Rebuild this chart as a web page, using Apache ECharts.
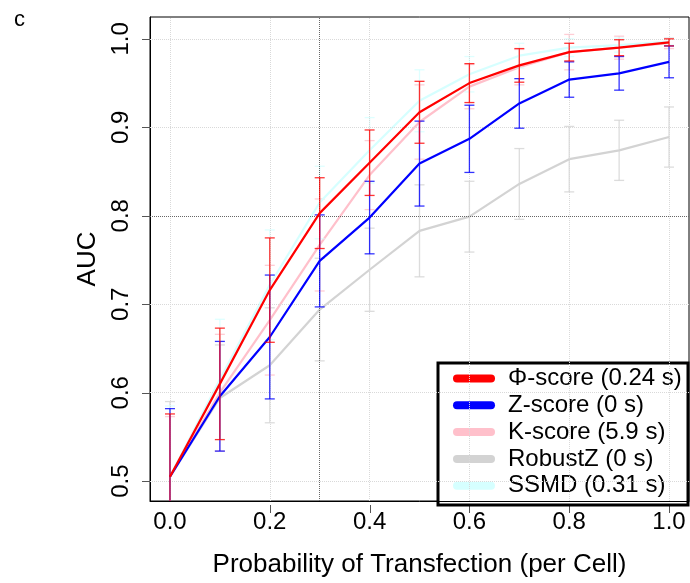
<!DOCTYPE html>
<html>
<head>
<meta charset="utf-8">
<script src="https://cdn.jsdelivr.net/npm/echarts@6/dist/echarts.min.js"></script>
<style>html,body{margin:0;padding:0;background:#fff}#c{width:690px;height:583px}</style>
</head>
<body>
<div id="c"></div>
<script>
var xValues = [0, 0.1, 0.2, 0.3, 0.4, 0.5, 0.6, 0.7, 0.8, 0.9, 1.0];
var xTicks = [0, 0.2, 0.4, 0.6, 0.8, 1.0];
var xTickMarks = [0.2, 0.4, 0.6, 0.8, 1.0];
var yTicks = [0.5, 0.6, 0.7, 0.8, 0.9, 1.0];
var seriesNames = ['Φ-score (0.24 s)', 'Z-score (0 s)', 'K-score (5.9 s)', 'RobustZ (0 s)', 'SSMD (0.31 s)'];
var seriesColors = ['#ff0000', '#0000ff', '#ffc0cb', '#d3d3d3', '#d6ffff'];

var phiMean = [0.505, 0.610, 0.716, 0.803, 0.860, 0.917, 0.950, 0.970, 0.985, 0.990, 0.996];
var phiSd   = [0.071, 0.063, 0.059, 0.040, 0.037, 0.035, 0.022, 0.019, 0.010, 0.009, 0.004];
var zMean   = [0.505, 0.596, 0.663, 0.749, 0.798, 0.859, 0.887, 0.927, 0.954, 0.961, 0.974];
var zSd     = [0.077, 0.062, 0.070, 0.052, 0.041, 0.048, 0.038, 0.028, 0.020, 0.019, 0.018];
var kMean   = [0.505, 0.600, 0.682, 0.767, 0.846, 0.906, 0.946, 0.968, 0.985, 0.990, 0.995];
var kSd     = [0.068, 0.066, 0.062, 0.052, 0.039, 0.042, 0.025, 0.020, 0.020, 0.013, 0.006];
var rzMean  = [0.505, 0.594, 0.631, 0.694, 0.739, 0.783, 0.799, 0.836, 0.864, 0.874, 0.889];
var rzSd    = [0.085, 0.060, 0.065, 0.058, 0.047, 0.052, 0.040, 0.040, 0.037, 0.034, 0.034];
var ssmdMean= [0.505, 0.615, 0.722, 0.815, 0.874, 0.930, 0.960, 0.981, 0.990, 0.993, 0.997];
var ssmdSd  = [0.080, 0.068, 0.062, 0.041, 0.037, 0.035, 0.020, 0.014, 0.010, 0.008, 0.004];

var means = [phiMean, zMean, kMean, rzMean, ssmdMean];
var sds = [phiSd, zSd, kSd, rzSd, ssmdSd];
var drawOrder = [3, 2, 4, 1, 0];

var FONT = '"Liberation Sans", Arial, Helvetica, sans-serif';
var TICK_LEN = 8;

function pairs(m) { return xValues.map(function (x, i) { return [x, m[i]]; }); }
function errData(m, s) { return xValues.map(function (x, i) { return [x, m[i] - s[i], m[i] + s[i]]; }); }

function errRender(color) {
  return function (params, api) {
    var x = api.value(0);
    var lo = api.coord([x, api.value(1)]);
    var hi = api.coord([x, api.value(2)]);
    var w = 5;
    var st = { stroke: color, lineWidth: 1.3, opacity: 0.8 };
    return {
      type: 'group',
      children: [
        { type: 'line', shape: { x1: lo[0], y1: lo[1], x2: hi[0], y2: hi[1] }, style: st },
        { type: 'line', shape: { x1: lo[0] - w, y1: lo[1], x2: lo[0] + w, y2: lo[1] }, style: st },
        { type: 'line', shape: { x1: hi[0] - w, y1: hi[1], x2: hi[0] + w, y2: hi[1] }, style: st }
      ]
    };
  };
}

var series = [];
series.push({
  type: 'line', data: [], silent: true, z: 1,
  markLine: {
    silent: true, symbol: 'none', label: { show: false }, animation: false,
    lineStyle: { type: 'dotted', color: '#d9d9d9', width: 1 },
    data: xTicks.map(function (v) { return { xAxis: v }; }).concat(
          yTicks.map(function (v) { return { yAxis: v }; }))
  }
});
series.push({
  type: 'line', data: [], silent: true, z: 1,
  markLine: {
    silent: true, symbol: 'none', label: { show: false }, animation: false,
    lineStyle: { type: 'dotted', color: '#666', width: 1 },
    data: [{ xAxis: 0.3 }, { yAxis: 0.8 }]
  }
});

drawOrder.forEach(function (k, j) {
  series.push({
    type: 'custom', name: 'err' + k, clip: true, silent: true, z: 2 + j,
    renderItem: errRender(seriesColors[k]),
    data: errData(means[k], sds[k]), animation: false
  });
  series.push({
    type: 'line', name: seriesNames[k], data: pairs(means[k]), showSymbol: false, symbol: 'none',
    lineStyle: { color: seriesColors[k], width: 2.2 }, itemStyle: { color: seriesColors[k] },
    z: 2 + j, animation: false, clip: true
  });
});

var legX = 438, legY = 363, legR = 688, legB = 505, rowH = 26.8, row0 = 378.5;
var legendChildren = [{
  type: 'rect', shape: { x: legX, y: legY, width: legR - legX, height: legB - legY },
  style: { fill: '#fff', stroke: '#000', lineWidth: 3 }
}];
seriesNames.forEach(function (n, i) {
  var cy = row0 + i * rowH;
  legendChildren.push({
    type: 'line', shape: { x1: 457, y1: cy, x2: 491, y2: cy },
    style: { stroke: seriesColors[i], lineWidth: 8, lineCap: 'round' }
  });
  legendChildren.push({
    type: 'text', x: 508, y: cy,
    style: { text: n, fontFamily: FONT, fontSize: 24, fill: '#000', verticalAlign: 'middle', align: 'left' }
  });
});

var GRID = { left: 150, right: 1, top: 17, bottom: 78 };
var chart = echarts.init(document.getElementById('c'));
chart.setOption({
  animation: false,
  backgroundColor: '#fff',
  title: { text: 'c', left: 9, top: 4, textStyle: { fontFamily: FONT, fontSize: 22, fontWeight: 'normal', color: '#000' } },
  grid: { left: GRID.left, right: GRID.right, top: GRID.top, bottom: GRID.bottom, show: true, borderColor: '#000', borderWidth: 1, backgroundColor: 'transparent', containLabel: false },
  xAxis: {
    type: 'value', min: -0.04, max: 1.04,
    name: 'Probability of Transfection (per Cell)', nameLocation: 'middle', nameGap: 51,
    nameTextStyle: { fontFamily: FONT, fontSize: 26, color: '#000' },
    axisLine: { show: true, onZero: false, lineStyle: { color: '#000', width: 1 } },
    axisTick: { show: false },
    axisLabel: { customValues: xTicks, fontFamily: FONT, fontSize: 24, color: '#000', margin: 9, formatter: function (v) { return v.toFixed(1); } },
    splitLine: { show: false }
  },
  yAxis: {
    type: 'value', min: 0.4776, max: 1.0247,
    name: 'AUC', nameLocation: 'middle', nameGap: 49, nameRotate: 90,
    nameTextStyle: { fontFamily: FONT, fontSize: 26, color: '#000' },
    axisLine: { show: true, onZero: false, lineStyle: { color: '#000', width: 1 } },
    axisTick: { show: false },
    axisLabel: { customValues: yTicks, rotate: 90, fontFamily: FONT, fontSize: 24, color: '#000', margin: 17, formatter: function (v) { return v.toFixed(1); } },
    splitLine: { show: false }
  },
  series: series
});

// outside tick marks, positioned through the axis scales
var H = chart.getHeight();
var yBottom = H - GRID.bottom;
var xLeft = GRID.left;
var tickEls = [];
xTickMarks.forEach(function (v) {
  var px = Math.round(chart.convertToPixel({ xAxisIndex: 0 }, v)) + 0.5;
  tickEls.push({ type: 'line', shape: { x1: px, y1: yBottom, x2: px, y2: yBottom + TICK_LEN }, style: { stroke: '#555', lineWidth: 1 } });
});
yTicks.forEach(function (v) {
  var py = Math.round(chart.convertToPixel({ yAxisIndex: 0 }, v)) + 0.5;
  tickEls.push({ type: 'line', shape: { x1: xLeft - TICK_LEN, y1: py, x2: xLeft, y2: py }, style: { stroke: '#555', lineWidth: 1 } });
});
chart.setOption({
  graphic: [
    { type: 'group', z: 90, silent: true, children: tickEls },
    { type: 'group', z: 100, children: legendChildren }
  ]
});
</script>
</body>
</html>
